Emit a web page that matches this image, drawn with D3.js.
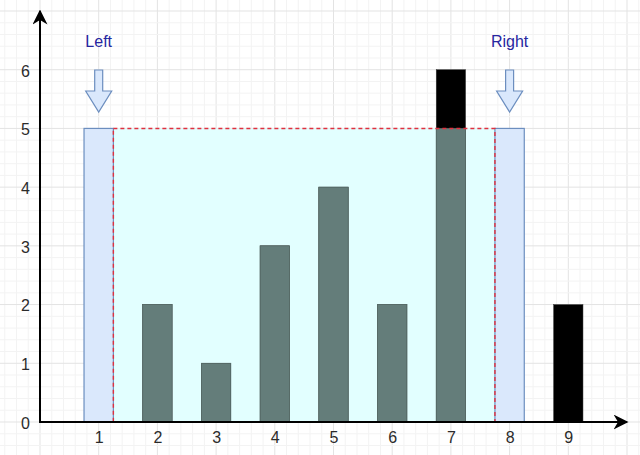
<!DOCTYPE html>
<html lang="en">
<head>
    <meta charset="UTF-8">
    <title>Trapping water</title>
    <script src="https://cdn.jsdelivr.net/npm/d3@7"></script>
    <style>
        body {
            margin: 0;
            background: #ffffff;
        }

        svg {
            display: block;
        }

        .tick text {
            font-family: "Liberation Sans", Arial, sans-serif;
            font-size: 16px;
            fill: #2b2b2b;
        }
    </style>
</head>
<body>
<svg width="640" height="455"></svg>

<script>

    // data
    var positions = [1, 2, 3, 4, 5, 6, 7, 8, 9];
    var heights = [5, 2, 1, 3, 4, 2, 6, 5, 2];
    var pointerLabels = ['Left', 'Right'];
    var pointerPositions = [1, 8];
    var waterLevel = 5;
    var xTicks = [1, 2, 3, 4, 5, 6, 7, 8, 9];
    var yTicks = [0, 1, 2, 3, 4, 5, 6];

    var width = 640;
    var height = 455;
    var svg = d3.select('svg');

    var x = d3.scaleLinear().domain([0, 10]).range([40, 627]);
    var y = d3.scaleLinear().domain([0, 7]).range([422, 11]);
    var barW = 0.5;

    // background grid
    var grid = svg.append('g');
    var xMin = Math.floor(x.invert(0)), xMax = Math.ceil(x.invert(width));
    var yMin = Math.floor(y.invert(height)), yMax = Math.ceil(y.invert(0));
    var minorX = d3.range(xMin * 5, xMax * 5 + 1).map(function (d) { return d / 5; });
    var minorY = d3.range(yMin * 5, yMax * 5 + 1).map(function (d) { return d / 5; });

    function gridColor(d) {
        return Math.abs(d - Math.round(d)) < 1e-6 ? '#e3e3e3' : '#f3f3f3';
    }

    grid.selectAll('.vx')
        .data(minorX)
        .enter().append('line')
        .attr('x1', function (d) { return x(d); })
        .attr('x2', function (d) { return x(d); })
        .attr('y1', 0)
        .attr('y2', height)
        .attr('stroke', gridColor)
        .attr('stroke-width', 1);

    grid.selectAll('.hy')
        .data(minorY)
        .enter().append('line')
        .attr('y1', function (d) { return y(d); })
        .attr('y2', function (d) { return y(d); })
        .attr('x1', 0)
        .attr('x2', width)
        .attr('stroke', gridColor)
        .attr('stroke-width', 1);

    var bars = positions.map(function (p, i) {
        return {pos: p, h: heights[i], wall: pointerPositions.indexOf(p) >= 0};
    });

    var waterLeft = pointerPositions[0] + barW / 2;
    var waterRight = pointerPositions[1] - barW / 2;

    // water area (under the bars)
    svg.append('rect')
        .attr('x', x(waterLeft))
        .attr('y', y(waterLevel))
        .attr('width', x(waterRight) - x(waterLeft))
        .attr('height', y(0) - y(waterLevel))
        .attr('fill', '#e2ffff');

    // black bars
    svg.selectAll('.bar')
        .data(bars.filter(function (d) { return !d.wall; }))
        .enter().append('rect')
        .attr('x', function (d) { return x(d.pos - barW / 2); })
        .attr('y', function (d) { return y(d.h); })
        .attr('width', x(barW) - x(0))
        .attr('height', function (d) { return y(0) - y(d.h); })
        .attr('fill', '#000000')
        .attr('stroke', '#333333')
        .attr('stroke-width', 0.5);

    // submerged part of the bars
    svg.selectAll('.wet')
        .data(bars.filter(function (d) {
            return !d.wall && d.pos > waterLeft && d.pos < waterRight;
        }))
        .enter().append('rect')
        .attr('x', function (d) { return x(d.pos - barW / 2); })
        .attr('y', function (d) { return y(Math.min(d.h, waterLevel)); })
        .attr('width', x(barW) - x(0))
        .attr('height', function (d) { return y(0) - y(Math.min(d.h, waterLevel)); })
        .attr('fill', '#647d7a')
        .attr('stroke', '#566b68')
        .attr('stroke-width', 0.8);

    // walls (left / right pointers)
    svg.selectAll('.wall')
        .data(bars.filter(function (d) { return d.wall; }))
        .enter().append('rect')
        .attr('x', function (d) { return x(d.pos - barW / 2); })
        .attr('y', function (d) { return y(d.h); })
        .attr('width', x(barW) - x(0))
        .attr('height', function (d) { return y(0) - y(d.h); })
        .attr('fill', '#dae8fc')
        .attr('stroke', '#6c8ebf')
        .attr('stroke-width', 1.2);

    // dashed water outline
    svg.append('rect')
        .attr('x', x(waterLeft))
        .attr('y', y(waterLevel))
        .attr('width', x(waterRight) - x(waterLeft))
        .attr('height', y(0) - y(waterLevel))
        .attr('fill', 'none')
        .attr('stroke', '#e0303f')
        .attr('stroke-width', 1.4)
        .attr('stroke-dasharray', '4,3');

    // pointer arrows
    var pointers = pointerLabels.map(function (t, i) {
        return {label: t, pos: pointerPositions[i]};
    });

    var arrowTop = 70, arrowNeck = 91, arrowTip = 112;
    svg.selectAll('.ptr')
        .data(pointers)
        .enter().append('path')
        .attr('d', function (d) {
            var cx = x(d.pos);
            return 'M' + (cx - 4) + ',' + arrowTop +
                'L' + (cx + 4) + ',' + arrowTop +
                'L' + (cx + 4) + ',' + arrowNeck +
                'L' + (cx + 13) + ',' + arrowNeck +
                'L' + cx + ',' + arrowTip +
                'L' + (cx - 13) + ',' + arrowNeck +
                'L' + (cx - 4) + ',' + arrowNeck + 'Z';
        })
        .attr('fill', '#dae8fc')
        .attr('stroke', '#6c8ebf')
        .attr('stroke-width', 1.2);

    svg.selectAll('.ptr-label')
        .data(pointers)
        .enter().append('text')
        .attr('x', function (d) { return x(d.pos); })
        .attr('y', 47)
        .attr('text-anchor', 'middle')
        .style('font-family', '"Liberation Sans", Arial, sans-serif')
        .style('font-size', '16px')
        .style('fill', '#2626a0')
        .text(function (d) { return d.label; });

    // axes
    var defs = svg.append('defs');
    defs.append('marker')
        .attr('id', 'arrow')
        .attr('viewBox', '0 0 10 10')
        .attr('refX', 9)
        .attr('refY', 5)
        .attr('markerWidth', 7.5)
        .attr('markerHeight', 7.5)
        .attr('markerUnits', 'strokeWidth')
        .attr('orient', 'auto')
        .append('path')
        .attr('d', 'M0,0 L10,5 L0,10 L3,5 Z')
        .attr('fill', '#000');

    svg.append('line')
        .attr('x1', x(0)).attr('y1', y(0))
        .attr('x2', x(10)).attr('y2', y(0))
        .attr('stroke', '#000')
        .attr('stroke-width', 2)
        .attr('marker-end', 'url(#arrow)');

    svg.append('line')
        .attr('x1', x(0)).attr('y1', y(0) + 1)
        .attr('x2', x(0)).attr('y2', y(7))
        .attr('stroke', '#000')
        .attr('stroke-width', 2)
        .attr('marker-end', 'url(#arrow)');

    var xAxis = svg.append('g')
        .attr('transform', 'translate(0,' + (y(0) + 10) + ')')
        .call(d3.axisBottom(x).tickValues(xTicks).tickSize(0).tickPadding(0).tickFormat(d3.format('d')));
    xAxis.select('.domain').remove();
    xAxis.selectAll('text').attr('dy', '0.71em');

    var yAxis = svg.append('g')
        .attr('transform', 'translate(' + (x(0) - 10) + ',0)')
        .call(d3.axisLeft(y).tickValues(yTicks).tickSize(0).tickPadding(0).tickFormat(d3.format('d')));
    yAxis.select('.domain').remove();
    yAxis.selectAll('text').attr('dy', '0.4em');

</script>

</body>
</html>
